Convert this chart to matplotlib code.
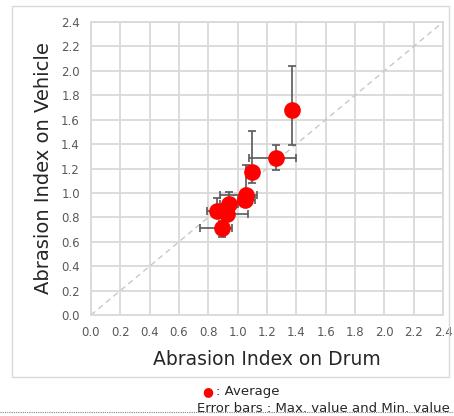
import numpy as np
import matplotlib.pyplot as plt
from matplotlib.patches import Rectangle
from matplotlib.lines import Line2D

# ------------ data ------------------------------------------------------
drum_avg = [1.37, 1.26, 1.10, 1.06, 1.05, 0.94, 0.86, 0.93, 0.89]
drum_min = [1.35, 1.08, 1.08, 0.88, 1.00, 0.88, 0.79, 0.90, 0.745]
drum_max = [1.42, 1.40, 1.12, 1.13, 1.12, 1.00, 0.92, 1.07, 0.96]

veh_avg = [1.68, 1.29, 1.17, 0.98, 0.94, 0.91, 0.85, 0.83, 0.71]
veh_min = [1.39, 1.19, 1.08, 0.93, 0.90, 0.82, 0.80, 0.78, 0.635]
veh_max = [2.04, 1.39, 1.51, 1.23, 1.00, 1.01, 0.955, 0.88, 0.77]

ticks = np.arange(0, 2.41, 0.2)

# ------------ plot -------------------------------------------------------
fig = plt.figure(figsize=(4.54, 4.16), dpi=100)
fig.patches.append(Rectangle((0.026, 0.094), 0.962, 0.892, transform=fig.transFigure,
                             fill=False, edgecolor="#d9d9d9", linewidth=1.0))

ax = fig.add_axes([0.2004, 0.2428, 0.7754, 0.7042])

xerr = [np.array(drum_avg) - np.array(drum_min), np.array(drum_max) - np.array(drum_avg)]
yerr = [np.array(veh_avg) - np.array(veh_min), np.array(veh_max) - np.array(veh_avg)]

ax.plot([0, 2.4], [0, 2.4], linestyle=(0, (4, 3)), color="#c8c8c8", linewidth=1.0, zorder=1)
ax.errorbar(drum_avg, veh_avg, xerr=xerr, yerr=yerr, fmt="none", ecolor="#595959",
            elinewidth=1.2, capsize=3, capthick=1.2, zorder=2)
ax.plot(drum_avg, veh_avg, "o", color="#ff0000", markersize=11, zorder=3)

ax.set_xlim(0, 2.4)
ax.set_ylim(0, 2.4)
ax.set_xticks(ticks)
ax.set_yticks(ticks)
ax.set_xticklabels([f"{t:.1f}" for t in ticks])
ax.set_yticklabels([f"{t:.1f}" for t in ticks])
ax.tick_params(length=0, labelsize=8.5, labelcolor="#595959", pad=8)
ax.grid(True, color="#d9d9d9", linewidth=1.3)
ax.set_axisbelow(True)
for s in ax.spines.values():
    s.set_color("#d9d9d9")
    s.set_linewidth(1.3)

ax.set_xlabel("Abrasion Index on Drum", fontsize=13.5, color="#262626", labelpad=8)
ax.set_ylabel("Abrasion Index on Vehicle", fontsize=14, color="#262626", labelpad=6)

# legend notes
fig.text(0.445, 0.058, "\u25cf", color="#ff0000", fontsize=9, va="center")
fig.text(0.475, 0.058, ": Average", color="#262626", fontsize=9.5, va="center")
fig.text(0.433, 0.017, "Error bars : Max. value and Min. value", color="#262626",
         fontsize=9.5, va="center")
fig.lines.append(Line2D([0, 1], [0.01, 0.01], transform=fig.transFigure,
                        color="#808080", linestyle=(0, (1, 1)), linewidth=0.8))

fig.savefig("out.png", dpi=100)
